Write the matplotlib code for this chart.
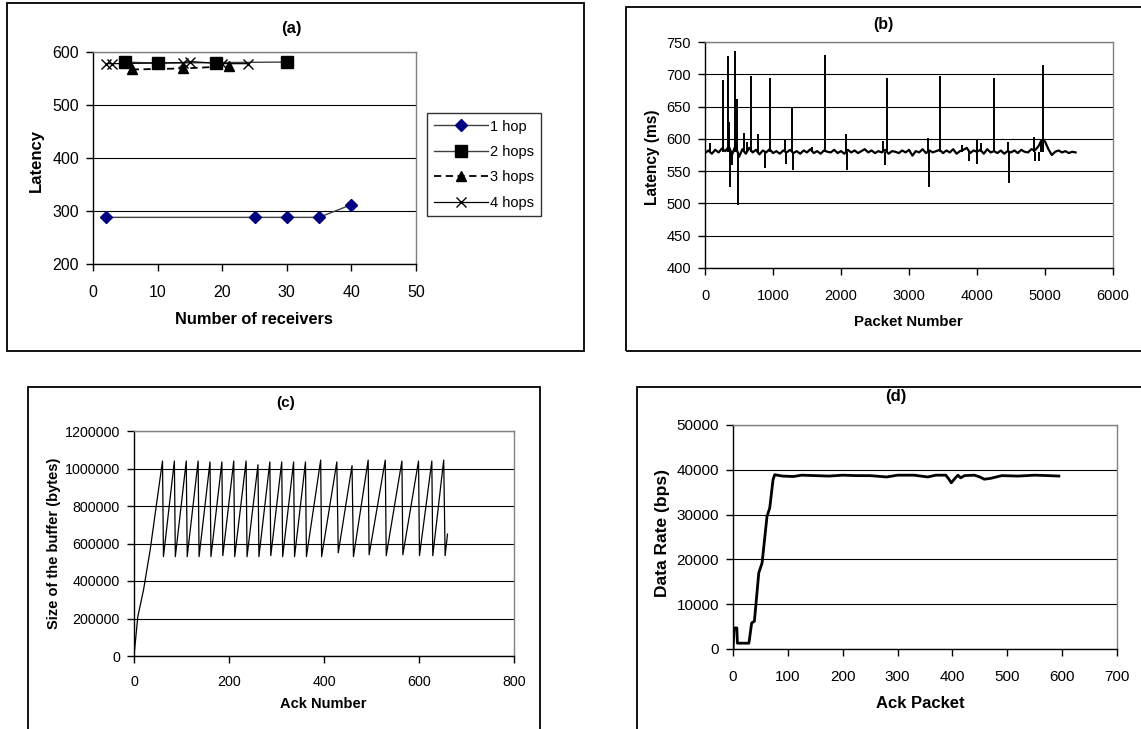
import numpy as np
import matplotlib
matplotlib.use("Agg")
import matplotlib.pyplot as plt
from matplotlib.patches import Rectangle

plt.rcParams["font.family"] = ["Liberation Sans", "DejaVu Sans"]

################################################################################
# Data
################################################################################

# (a) latency vs number of receivers
a_x_1hop = [2, 25, 30, 35, 40]
a_y_1hop = [288, 288, 288, 288, 312]
a_x_2hop = [5, 10, 19, 30]
a_y_2hop = [581, 579, 580, 581]
a_x_3hop = [6, 14, 21]
a_y_3hop = [567, 569, 573]
a_x_4hop = [2, 3, 14, 15, 20, 24]
a_y_4hop = [578, 578, 580, 582, 578, 578]

# (b) latency per packet: baseline every 50 packets + spikes
b_base_x = list(range(0, 5451, 50))
b_base_y = [578, 582, 577, 583, 579, 585, 581, 588, 576, 590,
            572, 584, 577, 586, 579, 583, 576, 582, 579, 584,
            578, 581, 577, 582, 579, 583, 578, 581, 577, 582,
            579, 584, 578, 581, 577, 582, 580, 579, 583, 578,
            581, 577, 583, 579, 582, 578, 581, 584, 579, 582,
            578, 581, 579, 583, 577, 581, 580, 578, 582, 579,
            583, 574, 581, 579, 584, 578, 582, 579, 581, 583,
            578, 582, 579, 584, 577, 581, 583, 586, 578, 582,
            580, 583, 577, 584, 579, 581, 578, 582, 577, 581,
            579, 582, 578, 583, 580, 579, 584, 582, 588, 598,
            596, 584, 575, 580, 582, 579, 581, 578, 580, 579]
b_spike_x = [74, 260, 338, 358, 441, 466, 569, 618, 682, 780, 957, 1177, 1280,
             1575, 1761, 2075, 2615, 2673, 3286, 3463, 3782, 3998, 4062, 4243,
             4455, 4842, 4945, 4969]
b_spike_y = [593, 691, 728, 626, 736, 662, 609, 595, 697, 607, 694, 600, 650,
             588, 730, 608, 596, 695, 602, 697, 591, 600, 593, 694,
             595, 603, 596, 714]
b_dip_x = [368, 397, 486, 888, 1192, 1295, 2090, 2653, 3301, 3880, 4003, 4465, 4846, 4905]
b_dip_y = [525, 559, 497, 555, 561, 552, 551, 559, 525, 565, 561, 532, 565, 565]

# (c) buffer size sawtooth
c_ramp_x = [0, 8, 20, 34]
c_ramp_y = [0, 210000, 352000, 565000]
c_peak_x = [60, 85, 110, 135, 160, 185, 210, 236, 261, 286, 311, 336, 361, 393,
            427, 459, 493, 529, 564, 599, 627, 652]
c_peak_y = [1040000, 1040000, 1040000, 1040000, 1035000, 1035000, 1040000, 1040000,
            1020000, 1035000, 1035000, 1035000, 1035000, 1045000, 1035000, 1015000,
            1045000, 1045000, 1040000, 1040000, 1040000, 1045000]
c_trough_x = [62, 87, 112, 137, 162, 187, 212, 238, 263, 288, 313, 338, 363, 395,
              430, 462, 495, 531, 566, 601, 629, 655]
c_trough_y = [530000, 530000, 530000, 530000, 530000, 535000, 530000, 530000,
              530000, 535000, 530000, 530000, 530000, 530000, 550000, 530000,
              540000, 535000, 540000, 535000, 535000, 535000]
c_end = (660, 650000)

# (d) data rate
d_x = [0, 2, 7, 8, 29, 34, 39, 47, 53, 62, 67, 73, 76, 90, 110, 125, 150, 175,
       200, 225, 250, 280, 300, 330, 355, 370, 388, 393, 398, 404, 410, 415, 422,
       440, 450, 458, 470, 490, 520, 550, 575, 594]
d_y = [0, 4700, 4700, 1300, 1300, 5800, 6200, 17000, 19200, 29600, 31500, 37800,
       38900, 38600, 38500, 38800, 38700, 38600, 38800, 38700, 38700, 38400, 38800,
       38800, 38400, 38800, 38800, 38000, 37100, 38000, 38800, 38200, 38700, 38800,
       38400, 37900, 38100, 38700, 38600, 38800, 38700, 38600]

################################################################################
# Layout helpers (pixel boxes of the 1141x729 picture)
################################################################################

W, H = 1141, 729
fig = plt.figure(figsize=(W / 100, H / 100), dpi=100)


def box(l, t, r, b):
    return [l / W, 1 - b / H, (r - l) / W, (b - t) / H]


def frame(l, t, r, b):
    fig.add_artist(Rectangle((l / W, 1 - b / H), (r - l) / W, (b - t) / H,
                             transform=fig.transFigure, fill=False,
                             edgecolor="black", linewidth=1.3))


def ftext(x, y, s, **kw):
    fig.text(x / W, 1 - y / H, s, ha="center", va="center", fontweight="bold", **kw)


def style(ax, fs=10, xpad=10):
    for side in ["top", "right"]:
        ax.spines[side].set_color("#808080")
        ax.spines[side].set_linewidth(1)
    for side in ["left", "bottom"]:
        ax.spines[side].set_color("black")
        ax.spines[side].set_linewidth(1)
    ax.yaxis.grid(True, color="black", linewidth=0.8)
    ax.set_axisbelow(True)
    ax.ticklabel_format(style="plain", useOffset=False)
    ax.tick_params(direction="out", length=5, width=1, labelsize=fs)
    ax.tick_params(axis="x", pad=xpad)
    ax.tick_params(axis="y", pad=5)


# Outer frames
frame(7, 3, 584, 351)
frame(626, 7, 1150, 351)
frame(28, 387, 540, 740)
frame(637, 387, 1150, 740)

################################################################################
# (a)
################################################################################

ax = fig.add_axes(box(93, 52, 416, 264))
ax.plot(a_x_1hop, a_y_1hop, color="#404040", lw=1, marker="D", ms=6,
        mfc="#000080", mec="#000080", label="1 hop")
ax.plot(a_x_2hop, a_y_2hop, color="#404040", lw=1, marker="s", ms=8,
        mfc="black", mec="black", label="2 hops")
ax.plot(a_x_3hop, a_y_3hop, color="black", lw=1.3, ls=(0, (4, 2.5)), marker="^", ms=7,
        mfc="black", mec="black", label="3 hops")
ax.plot(a_x_4hop, a_y_4hop, color="black", lw=0.9, marker="x", ms=7, mew=1,
        mec="black", label="4 hops")
ax.set_xlim(0, 50)
ax.set_ylim(200, 600)
ax.set_xticks(np.arange(0, 51, 10))
ax.set_yticks(np.arange(200, 601, 100))
style(ax, 11.5, 10)
ax.legend(loc="upper left", bbox_to_anchor=(427 / W, 1 - 113 / H),
          bbox_transform=fig.transFigure, frameon=True, fancybox=False,
          edgecolor="black", fontsize=10.5, handlelength=3.7, handletextpad=0.2,
          labelspacing=0.78, borderpad=0.45, borderaxespad=0)
ax.get_legend().get_frame().set_linewidth(1)
ftext(291, 29, "(a)", fontsize=12)
ftext(254, 319, "Number of receivers", fontsize=11.8)
ftext(36, 160, "Latency", fontsize=12, rotation=90)

################################################################################
# (b)
################################################################################

ax = fig.add_axes(box(705, 42, 1113, 268))
ax.plot(b_base_x, b_base_y, color="black", lw=1.6)
ax.vlines(b_spike_x, 580, b_spike_y, color="black", lw=1.4)
ax.vlines(b_dip_x, 580, b_dip_y, color="black", lw=1.4)
ax.set_xlim(0, 6000)
ax.set_ylim(400, 750)
ax.set_xticks(np.arange(0, 6001, 1000))
ax.set_yticks(np.arange(400, 751, 50))
style(ax, 10.5, 10)
ftext(883, 25, "(b)", fontsize=11.5)
ftext(908, 322, "Packet Number", fontsize=10.8)
ftext(653, 157, "Latency (ms)", fontsize=11.2, rotation=90)

################################################################################
# (c)
################################################################################

c_x = list(c_ramp_x)
c_y = list(c_ramp_y)
for px_, py_, tx_, ty_ in zip(c_peak_x, c_peak_y, c_trough_x, c_trough_y):
    c_x += [px_, tx_]
    c_y += [py_, ty_]
c_x.append(c_end[0])
c_y.append(c_end[1])

ax = fig.add_axes(box(134, 431, 514, 656))
ax.plot(c_x, c_y, color="black", lw=0.9)
ax.set_xlim(0, 800)
ax.set_ylim(0, 1200000)
ax.set_xticks(np.arange(0, 801, 200))
ax.set_yticks(np.arange(0, 1200001, 200000))
style(ax, 10.3, 9)
ftext(286, 403, "(c)", fontsize=11)
ftext(323, 704, "Ack Number", fontsize=10.5)
ftext(54, 543, "Size of the buffer (bytes)", fontsize=10.5, rotation=90)

################################################################################
# (d)
################################################################################

ax = fig.add_axes(box(733, 425, 1117, 649))
ax.plot(d_x, d_y, color="black", lw=2)
ax.set_xlim(0, 700)
ax.set_ylim(0, 50000)
ax.set_xticks(np.arange(0, 701, 100))
ax.set_yticks(np.arange(0, 50001, 10000))
style(ax, 11, 10)
ftext(896, 396, "(d)", fontsize=12)
ftext(920, 703, "Ack Packet", fontsize=12)
ftext(663, 533, "Data Rate (bps)", fontsize=12.5, rotation=90)

fig.savefig("out.png", dpi=100)
